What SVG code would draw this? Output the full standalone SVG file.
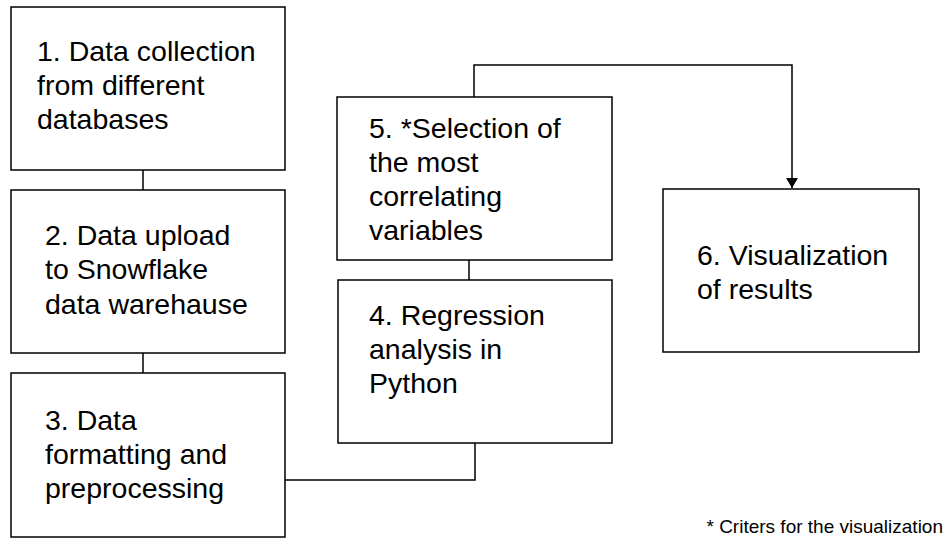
<svg xmlns="http://www.w3.org/2000/svg" width="948" height="539" viewBox="0 0 948 539">
  <style>
    .box { fill: #ffffff; stroke: #000000; stroke-width: 1.5; }
    .link { fill: none; stroke: #000000; stroke-width: 1.5; }
    .label { font-family: "Liberation Sans", Arial, sans-serif; font-size: 28.5px; fill: #000000; }
    .note { font-family: "Liberation Sans", Arial, sans-serif; font-size: 19px; fill: #000000; }
  </style>
  <defs>
    <marker id="arrow" viewBox="0 0 10 12" refX="10" refY="6" markerWidth="10" markerHeight="12" markerUnits="userSpaceOnUse" orient="auto">
      <path d="M0,0 L10,6 L0,12 Z" fill="#000000"/>
    </marker>
  </defs>
  <rect width="948" height="539" fill="#ffffff"/>

  <g id="connectors">
    <line class="link" x1="143" y1="170" x2="143" y2="190"/>
    <line class="link" x1="143" y1="353" x2="143" y2="373"/>
    <polyline class="link" points="285,480 475,480 475,443"/>
    <line class="link" x1="469" y1="260" x2="469" y2="280"/>
    <polyline class="link" points="474,97 474,65 792,65 792,188" marker-end="url(#arrow)"/>
  </g>

  <g id="node1">
    <rect class="box" x="11" y="7" width="274" height="163"/>
    <text class="label" x="37" y="61">1. Data collection</text>
    <text class="label" x="37" y="95">from different</text>
    <text class="label" x="37" y="129">databases</text>
  </g>

  <g id="node2">
    <rect class="box" x="11" y="190" width="274" height="163"/>
    <text class="label" x="45" y="245">2. Data upload</text>
    <text class="label" x="45" y="279">to Snowflake</text>
    <text class="label" x="45" y="314">data warehause</text>
  </g>

  <g id="node3">
    <rect class="box" x="11" y="373" width="274" height="164"/>
    <text class="label" x="45" y="430">3. Data</text>
    <text class="label" x="45" y="464">formatting and</text>
    <text class="label" x="45" y="498">preprocessing</text>
  </g>

  <g id="node4">
    <rect class="box" x="338" y="280" width="274" height="163"/>
    <text class="label" x="369" y="325">4. Regression</text>
    <text class="label" x="369" y="359">analysis in</text>
    <text class="label" x="369" y="393">Python</text>
  </g>

  <g id="node5">
    <rect class="box" x="337" y="97" width="275" height="163"/>
    <text class="label" x="369" y="138">5. *Selection of</text>
    <text class="label" x="369" y="172">the most</text>
    <text class="label" x="369" y="206">correlating</text>
    <text class="label" x="369" y="240">variables</text>
  </g>

  <g id="node6">
    <rect class="box" x="663" y="189" width="256" height="163"/>
    <text class="label" x="697" y="265">6. Visualization</text>
    <text class="label" x="697" y="299">of results</text>
  </g>

  <text class="note" x="943" y="533" text-anchor="end">* Criters for the visualization</text>
</svg>
